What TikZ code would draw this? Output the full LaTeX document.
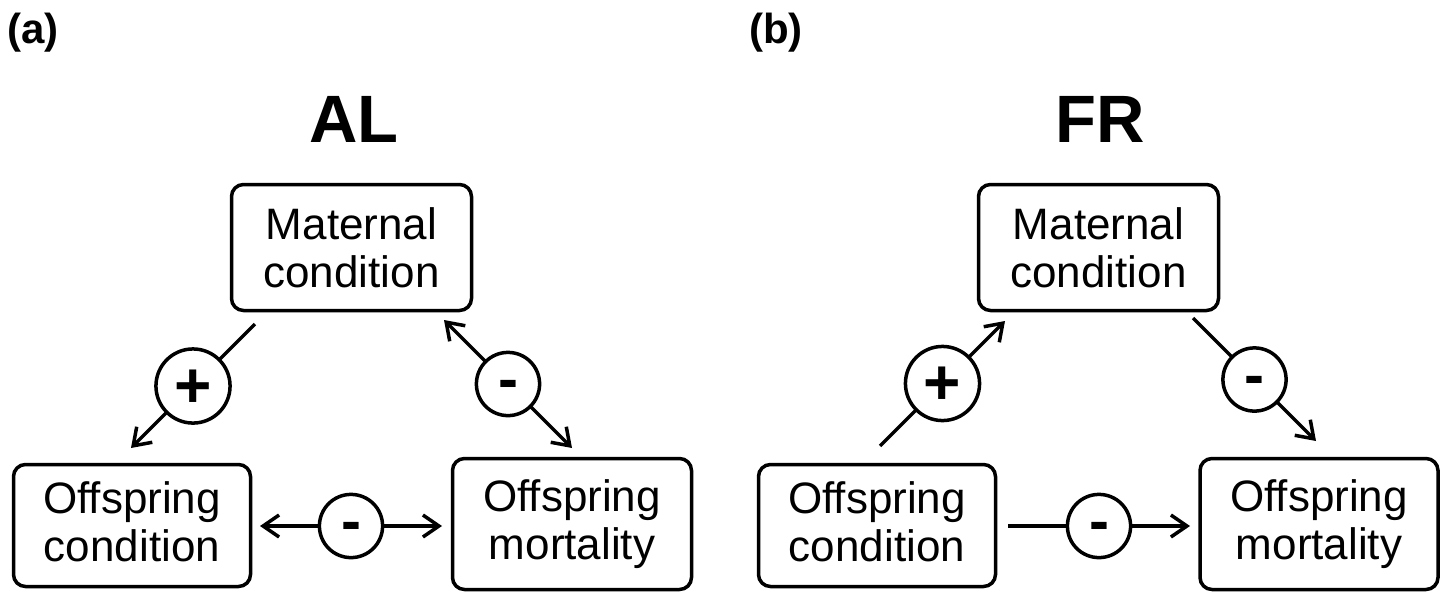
\documentclass[tikz,border=0pt]{standalone}
\usepackage{fontspec}
\setmainfont{Liberation Sans}
\usetikzlibrary{arrows.meta}
\begin{document}
\begin{tikzpicture}[x=1pt,y=-1pt,
  box/.style={draw, line width=3.5pt, rounded corners=12pt, align=center, inner sep=0pt,
    font=\fontsize{44}{48}\selectfont},
  sign/.style={draw, circle, fill=white, line width=3.5pt, minimum size=52pt, inner sep=0pt},
  plussign/.style={sign, font=\fontsize{64}{64}\selectfont\bfseries, text height=53pt, text depth=11pt},
  minussign/.style={sign, font=\fontsize{60}{60}\selectfont\bfseries, text height=45.9pt, text depth=14.1pt},
  tipbarb/.tip={Straight Barb[length=16pt,width=22pt]},
  arr/.style={line width=3.5pt, -tipbarb},
  arrs/.style={line width=3.5pt, tipbarb-tipbarb},
  title/.style={font=\fontsize{67}{67}\selectfont\bfseries, inner sep=0pt, anchor=base},
  tag/.style={font=\fontsize{42}{42}\selectfont\bfseries, inner sep=0pt, anchor=base west}]
\useasboundingbox (0,0) rectangle (1442,592);

% ---------- panel (a) ----------
\node[tag] (taga) at (7,43) {(a)};
\node[title] (titlea) at (354,142) {AL};
\node[box, minimum width=240pt, minimum height=126pt] (ma) at (351.5,247.5) {Maternal\\condition};
\node[box, minimum width=237pt, minimum height=122pt] (oca) at (132,525.5) {Offspring\\condition\rule[-7pt]{0pt}{7pt}};
\node[box, minimum width=239pt, minimum height=131pt] (oma) at (572,524) {Offspring\\mortality};

\coordinate (a1s) at (255,324);
\coordinate (a1e) at (131,448);
\coordinate (a2s) at (444,320);
\coordinate (a2e) at (572,448);
\coordinate (a3s) at (260,526);
\coordinate (a3e) at (442,526);
\draw[arr]  (a1s) -- node[plussign]  (sa1) {+} (a1e);
\draw[arrs] (a2s) -- node[minussign] (sa2) {-} (a2e);
\draw[arrs] (a3s) -- node[minussign] (sa3) {-} (a3e);

% ---------- panel (b) ----------
\node[tag] (tagb) at (749,43) {(b)};
\node[title] (titleb) at (1100,142) {FR};
\node[box, minimum width=240pt, minimum height=126pt] (mb) at (1098.5,247.5) {Maternal\\condition};
\node[box, minimum width=237pt, minimum height=122pt] (ocb) at (877,525.5) {Offspring\\condition\rule[-7pt]{0pt}{7pt}};
\node[box, minimum width=238pt, minimum height=131pt] (omb) at (1319,524) {Offspring\\mortality};

\coordinate (b1s) at (880,446);
\coordinate (b1e) at (1005,321);
\coordinate (b2s) at (1193,318);
\coordinate (b2e) at (1316,441);
\coordinate (b3s) at (1008,526);
\coordinate (b3e) at (1190,526);
\draw[arr] (b1s) -- node[plussign]  (sb1) {+} (b1e);
\draw[arr] (b2s) -- node[minussign] (sb2) {-} (b2e);
\draw[arr] (b3s) -- node[minussign] (sb3) {-} (b3e);
\end{tikzpicture}
\end{document}
